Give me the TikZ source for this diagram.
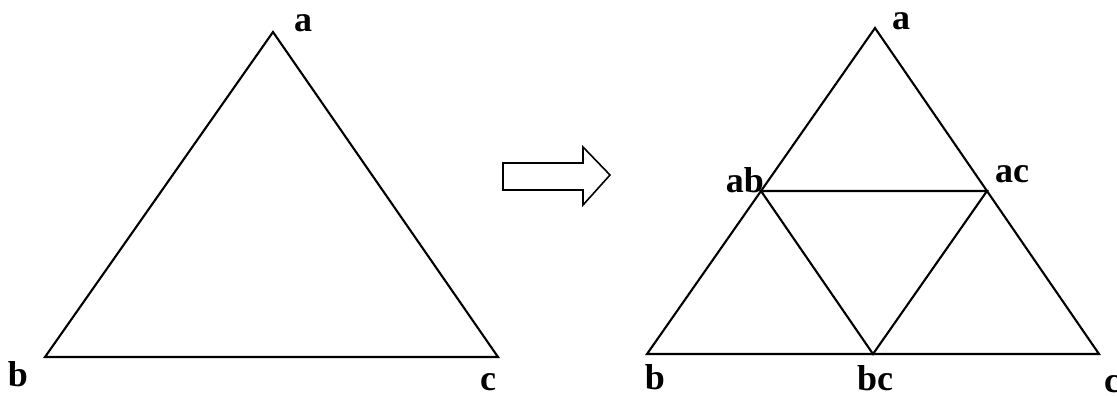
\documentclass[tikz,border=0pt]{standalone}
\usepackage{fontspec}
\setmainfont{Liberation Serif}
\usepackage{tikz}
\usetikzlibrary{calc}

\begin{document}
\begin{tikzpicture}[x=1pt, y=-1pt, line width=2.1pt,
  lab/.style={font=\fontsize{36}{36}\selectfont\bfseries, inner sep=0pt, anchor=base},
  edge/.style={line join=miter}]
\useasboundingbox (0,0) rectangle (1117,396);
% left triangle
\coordinate (a1) at (273,32);
\coordinate (b1) at (45,357);
\coordinate (c1) at (498,357);
\draw[edge] (a1) -- (b1) -- (c1) -- cycle;
\node[lab] (la1) at (303,32) {a};
\node[lab] (lb1) at (18,386) {b};
\node[lab] (lc1) at (488,390) {c};
% block arrow
\draw[line width=1.6pt, line join=miter] (503,163) -- (583,163) -- (583,147) -- (610,175)
  -- (583,205) -- (583,190) -- (503,190) -- cycle;
% right triangle, split at the midpoints
\coordinate (a2) at (875,28);
\coordinate (b2) at (647,354);
\coordinate (c2) at (1099,354);
\coordinate (ab) at ($(a2)!0.5!(b2)$);
\coordinate (ac) at ($(a2)!0.5!(c2)$);
\coordinate (bc) at ($(b2)!0.5!(c2)$);
\draw[edge] (a2) -- (b2) -- (c2) -- cycle;
\draw[edge] (ab) -- (ac) -- (bc) -- cycle;
\node[lab] (la2) at (901,30) {a};
\node[lab, anchor=base east] (lab2) at (765,192) {ab};
\node[lab] (lac2) at (1012,182) {ac};
\node[lab] (lb2) at (655,389) {b};
\node[lab] (lbc2) at (875,390) {bc};
\node[lab, anchor=base west] (lc2) at (1103,392) {c};
\end{tikzpicture}
\end{document}
